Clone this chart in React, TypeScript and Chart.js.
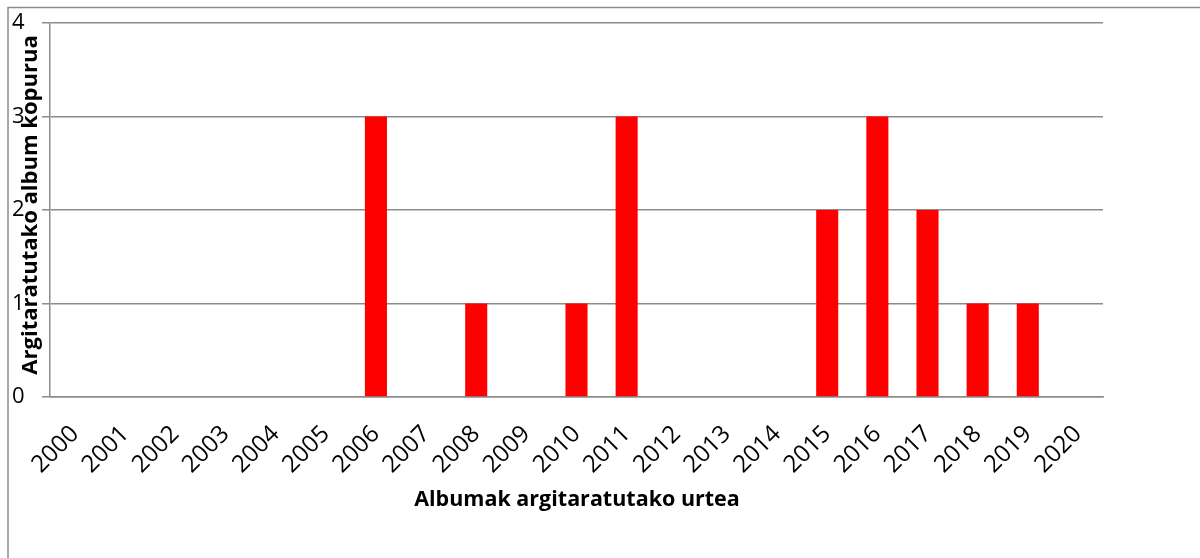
import React, { useEffect, useRef } from "react";
import { Chart, registerables } from "chart.js";

Chart.register(...registerables);

const years = ["2000","2001","2002","2003","2004","2005","2006","2007","2008","2009","2010","2011","2012","2013","2014","2015","2016","2017","2018","2019","2020"];
const albumCounts = [0,0,0,0,0,0,3,0,1,0,1,3,0,0,0,2,3,2,1,1,0];
const yTicks = [0,1,2,3,4];
const xTitle = "Albumak argitaratutako urtea";
const yTitle = "Argitaratutako album kopurua";

const FONT = "'Open Sans', 'DejaVu Sans', sans-serif";

const decorPlugin = {
  id: "decor",
  afterDraw(chart: any) {
    const ctx = chart.ctx;
    ctx.save();
    // outer frame
    ctx.strokeStyle = "#8c8c8c";
    ctx.lineWidth = 1.5;
    ctx.beginPath();
    ctx.moveTo(8, 558);
    ctx.lineTo(8, 7.5);
    ctx.lineTo(1200, 7.5);
    ctx.stroke();
    // titles
    ctx.fillStyle = "#000";
    ctx.font = `bold 21.5px ${FONT}`;
    ctx.textAlign = "center";
    ctx.textBaseline = "middle";
    ctx.fillText(xTitle, 577, 500);
    ctx.font = `bold 22px ${FONT}`;
    ctx.translate(31, 205);
    ctx.rotate(-Math.PI / 2);
    ctx.fillText(yTitle, 0, 0);
    ctx.restore();
  },
};

export default function App() {
  const ref = useRef<HTMLCanvasElement>(null);
  useEffect(() => {
    document.body.style.margin = "0";
    const chart = new Chart(ref.current!, {
      type: "bar",
      data: {
        labels: years,
        datasets: [
          {
            data: albumCounts,
            backgroundColor: "#ff0000",
            borderWidth: 0,
            barPercentage: 0.44,
            categoryPercentage: 1,
          },
        ],
      },
      options: {
        responsive: false,
        animation: false,
        devicePixelRatio: 1,
        layout: { padding: { top: 23, right: 97, left: 12, bottom: 0 } },
        plugins: { legend: { display: false }, tooltip: { enabled: false } },
        scales: {
          x: {
            grid: { display: false, drawTicks: false },
            border: { color: "#8c8c8c", width: 1.5 },
            ticks: {
              color: "#000",
              font: { family: FONT, size: 24 },
              minRotation: 45,
              maxRotation: 45,
              autoSkip: false,
              padding: 23,
            },
            afterFit(scale: any) {
              scale.height = 161;
            },
          },
          y: {
            min: 0,
            max: 4,
            afterBuildTicks(scale: any) {
              scale.ticks = yTicks.map((v) => ({ value: v }));
            },
            grid: { color: "#8c8c8c", lineWidth: 1.5, tickLength: 8 },
            border: { color: "#8c8c8c", width: 1.5 },
            ticks: {
              color: "#000",
              font: { family: FONT, size: 22 },
              crossAlign: "far",
              padding: 0,
            },
            afterFit(scale: any) {
              scale.width = 38;
            },
          },
        },
      },
      plugins: [decorPlugin],
    });
    return () => chart.destroy();
  }, []);
  return <canvas ref={ref} width={1200} height={558} style={{ display: "block" }} />;
}
